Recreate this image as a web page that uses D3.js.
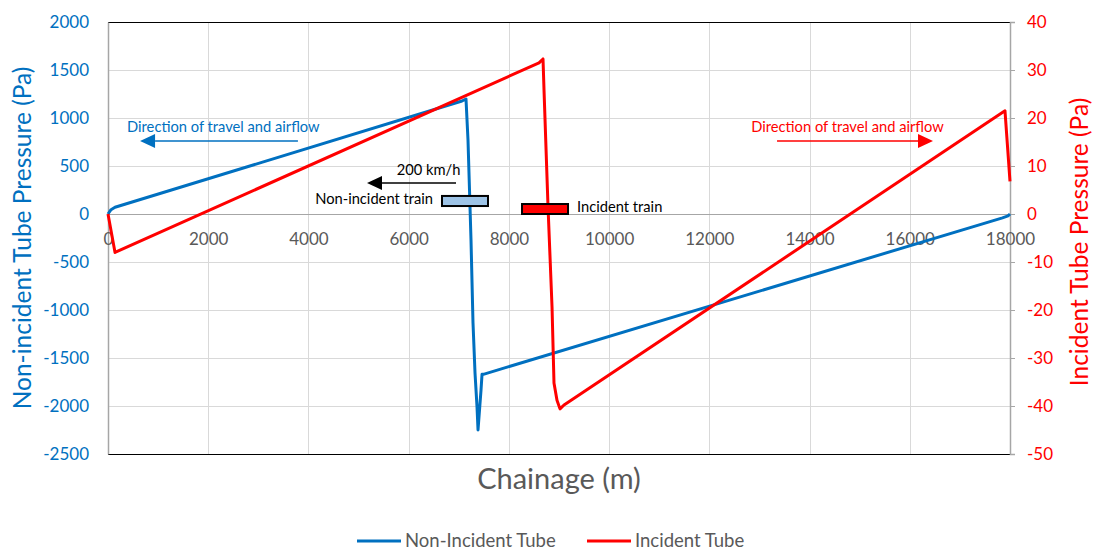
<!DOCTYPE html>
<html>
<head>
<meta charset="utf-8">
<script src="https://cdn.jsdelivr.net/npm/d3@7/dist/d3.min.js"></script>
<style>
  html, body { margin: 0; padding: 0; background: #fff; }
  svg { display: block; font-family: Lato, "Open Sans", sans-serif; }
</style>
</head>
<body>
<svg id="chart" width="1096" height="550"></svg>
<script>
// Chainage (m) ticks and pressure ticks
const chainageTicks = [0, 2000, 4000, 6000, 8000, 10000, 12000, 14000, 16000, 18000];
const leftTicks = [-2500, -2000, -1500, -1000, -500, 0, 500, 1000, 1500, 2000];
const rightTicks = [-50, -40, -30, -20, -10, 0, 10, 20, 30, 40];

// Non-incident tube pressure (Pa) along the tunnel
const nonIncidentChainage = [0, 60, 140, 7064, 7144, 7184, 7244, 7284, 7324, 7364, 7384, 7444, 7464, 7490, 17850, 17960, 18000];
const nonIncidentPressure = [0, 45, 70, 1177, 1198, 771, -271, -1135, -1656, -2010, -2250, -1833, -1670, -1670, -40, -20, 0];

// Incident tube pressure (Pa) along the tunnel
const incidentChainage = [0, 140, 8601, 8681, 8701, 8781, 8861, 8900, 8960, 9020, 9100, 17900, 18000];
const incidentPressure = [0, -8, 31.5, 32.3, 25.8, 1.5, -19.4, -35.2, -38.8, -40.6, -39.8, 21.5, 6.8];

const seriesNames = ["Non-Incident Tube", "Incident Tube"];

const BLUE = "#0070C0", RED = "#FF0000", GREY = "#595959";
const FONT = "Lato, 'Open Sans', sans-serif";

const svg = d3.select("#chart");
const W = 1096, H = 550;
svg.append("rect").attr("width", W).attr("height", H).attr("fill", "#fff");

const x = d3.scaleLinear().domain([0, 18000]).range([108, 1010]);
const yL = d3.scaleLinear().domain([-2500, 2000]).range([454, 22]);
const yR = d3.scaleLinear().domain([-50, 40]).range([454, 22]);
const plain = d => String(d);

// Gridlines
const grid = svg.append("g").attr("stroke", "#D9D9D9").attr("stroke-width", 1);
grid.selectAll("line.h").data(leftTicks).join("line")
  .attr("x1", x(0)).attr("x2", x(18000))
  .attr("y1", d => Math.round(yL(d)) + 0.5).attr("y2", d => Math.round(yL(d)) + 0.5);
grid.selectAll("line.v").data(chainageTicks).join("line")
  .attr("x1", d => Math.round(x(d)) + 0.5).attr("x2", d => Math.round(x(d)) + 0.5)
  .attr("y1", yL(2000)).attr("y2", yL(-2500));

// Plot frame: dark top/bottom edges
svg.append("line").attr("x1", x(0)).attr("x2", x(18000)).attr("y1", yL(2000) + 0.5).attr("y2", yL(2000) + 0.5)
  .attr("stroke", "#000").attr("stroke-width", 1.2);
svg.append("line").attr("x1", x(0)).attr("x2", x(18000)).attr("y1", yL(-2500) + 0.5).attr("y2", yL(-2500) + 0.5)
  .attr("stroke", "#000").attr("stroke-width", 1.2);

// Left axis
const leftAxis = d3.axisLeft(yL).tickValues(leftTicks).tickSize(0).tickPadding(19).tickFormat(plain);
const gL = svg.append("g").attr("transform", `translate(${x(0)},0)`).call(leftAxis);
gL.select(".domain").attr("stroke", "#A6A6A6").attr("stroke-width", 1.5);
gL.selectAll("text").attr("fill", BLUE).attr("font-size", 17).attr("font-family", FONT);

// Right axis
const rightAxis = d3.axisRight(yR).tickValues(rightTicks).tickSize(5).tickPadding(12).tickFormat(plain);
const gR = svg.append("g").attr("transform", `translate(${x(18000)},0)`).call(rightAxis);
gR.select(".domain").attr("stroke", "#A6A6A6").attr("stroke-width", 1.5);
gR.selectAll(".tick line").attr("stroke", "#A6A6A6");
gR.selectAll("text").attr("fill", RED).attr("font-size", 17).attr("font-family", FONT);

// Horizontal chainage axis crossing at zero pressure
const bottomAxis = d3.axisBottom(x).tickValues(chainageTicks).tickSize(0).tickPadding(19).tickFormat(plain);
const gX = svg.append("g").attr("transform", `translate(0,${yL(0)})`).call(bottomAxis);
gX.select(".domain").attr("stroke", "#A6A6A6").attr("stroke-width", 1.2);
gX.selectAll("text").attr("fill", GREY).attr("font-size", 17).attr("font-family", FONT);

// Series lines
const blueData = nonIncidentChainage.map((c, i) => [c, nonIncidentPressure[i]]);
const redData = incidentChainage.map((c, i) => [c, incidentPressure[i]]);

svg.append("path").datum(blueData)
  .attr("fill", "none").attr("stroke", BLUE).attr("stroke-width", 3).attr("stroke-linejoin", "round")
  .attr("d", d3.line().x(d => x(d[0])).y(d => yL(d[1])));
svg.append("path").datum(redData)
  .attr("fill", "none").attr("stroke", RED).attr("stroke-width", 3).attr("stroke-linejoin", "round")
  .attr("d", d3.line().x(d => x(d[0])).y(d => yR(d[1])));

// Annotations, placed in chainage / non-incident pressure coordinates
function arrow(x1, x2, yv, color) {
  const px1 = x(x1), px2 = x(x2), py = yL(yv);
  const dir = Math.sign(px2 - px1);
  const head = 15, half = 7;
  svg.append("line").attr("x1", px1).attr("x2", px2 - dir * head).attr("y1", py).attr("y2", py)
    .attr("stroke", color).attr("stroke-width", 1.5);
  svg.append("path")
    .attr("d", `M${px2},${py} L${px2 - dir * head},${py - half} L${px2 - dir * head},${py + half} Z`)
    .attr("fill", color);
}

const ANN = 14.7;
svg.append("text").attr("x", x(380)).attr("y", yL(906)).attr("dy", "0.35em")
  .attr("fill", BLUE).attr("font-size", ANN).text("Direction of travel and airflow");
arrow(3790, 640, 760, BLUE);

svg.append("text").attr("x", x(14757)).attr("y", yL(906)).attr("dy", "0.35em").attr("text-anchor", "middle")
  .attr("fill", RED).attr("font-size", ANN).text("Direction of travel and airflow");
arrow(13351, 16464, 760, RED);

svg.append("text").attr("x", x(6396)).attr("y", yL(458)).attr("dy", "0.35em").attr("text-anchor", "middle")
  .attr("fill", "#000").attr("font-size", ANN).text("200 km/h");
arrow(6945, 5169, 323, "#000");

svg.append("text").attr("x", x(6486)).attr("y", yL(156)).attr("dy", "0.35em").attr("text-anchor", "end")
  .attr("fill", "#000").attr("font-size", ANN).text("Non-incident train");
svg.append("rect").attr("x", x(6665)).attr("y", yL(188)).attr("width", x(7583) - x(6665)).attr("height", yL(83) - yL(188))
  .attr("fill", "#9DC3E6").attr("stroke", "#000").attr("stroke-width", 2);

svg.append("rect").attr("x", x(8262)).attr("y", yL(104)).attr("width", x(9180) - x(8262)).attr("height", yL(0) - yL(104))
  .attr("fill", RED).attr("stroke", "#000").attr("stroke-width", 2);
svg.append("text").attr("x", x(9359)).attr("y", yL(73)).attr("dy", "0.35em")
  .attr("fill", "#000").attr("font-size", ANN).text("Incident train");

// Axis titles
svg.append("text").attr("transform", `translate(22,238) rotate(-90)`).attr("text-anchor", "middle").attr("dy", "0.35em")
  .attr("fill", BLUE).attr("font-size", 24.5).text("Non-incident Tube Pressure (Pa)");
svg.append("text").attr("transform", `translate(1079,242) rotate(-90)`).attr("text-anchor", "middle").attr("dy", "0.35em")
  .attr("fill", RED).attr("font-size", 24.5).text("Incident Tube Pressure (Pa)");
svg.append("text").attr("x", 559).attr("y", 479).attr("dy", "0.35em").attr("text-anchor", "middle")
  .attr("fill", GREY).attr("font-size", 29).text("Chainage (m)");

// Legend
const legend = svg.append("g");
const legendItems = [
  { name: seriesNames[0], color: BLUE, x0: 357 },
  { name: seriesNames[1], color: RED, x0: 587 }
];
legendItems.forEach(it => {
  legend.append("line").attr("x1", it.x0).attr("x2", it.x0 + 44).attr("y1", 541).attr("y2", 541)
    .attr("stroke", it.color).attr("stroke-width", 3);
  legend.append("text").attr("x", it.x0 + 48).attr("y", 541).attr("dy", "0.35em")
    .attr("fill", GREY).attr("font-size", 18.5).text(it.name);
});
</script>
</body>
</html>
